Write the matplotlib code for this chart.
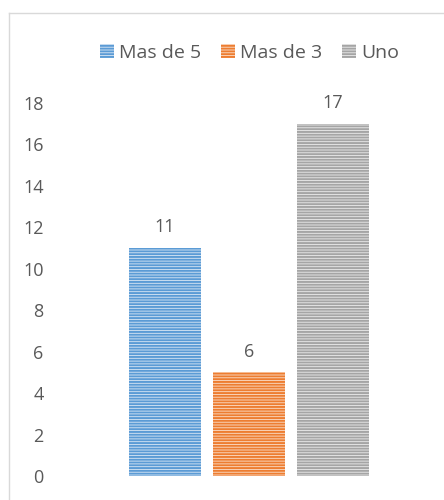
import matplotlib.pyplot as plt
from matplotlib.patches import Rectangle
from matplotlib.lines import Line2D

plt.rcParams['font.family'] = ['Open Sans', 'DejaVu Sans']
plt.rcParams['hatch.linewidth'] = 1.4

series = ['Mas de 5', 'Mas de 3', 'Uno']
values = [11, 5, 17]
labels = ['11', '6', '17']
colors = ['#5b9bd5', '#ed7d31', '#a5a5a5']
tints = ['#dce8f5', '#fbe0cd', '#ececec']
yticks = [0, 2, 4, 6, 8, 10, 12, 14, 16, 18]
txt = '#595959'
fs = 13

fig = plt.figure(figsize=(4.44, 5), dpi=100)
ax = fig.add_axes([0.12, 0.048, 0.86, 0.746])

x = [0, 1, 2]
for i in range(3):
    ax.bar(x[i], values[i], width=0.857, color=tints[i], edgecolor=colors[i],
           hatch='------', linewidth=0, label=series[i])
    ax.annotate(labels[i], (x[i], values[i]), xytext=(0, 15), textcoords='offset points',
                ha='center', va='center', fontsize=fs, color=txt)

ax.set_ylim(0, 18)
ax.set_xlim(-1.327, 3.22)
ax.set_yticks(yticks)
ax.set_xticks([])
ax.tick_params(axis='y', length=0, labelsize=fs, labelcolor=txt, pad=7)
for s in ax.spines.values():
    s.set_visible(False)

# legend
handles = [Rectangle((0, 0), 1, 1, facecolor=tints[i], edgecolor=colors[i],
                     hatch='------', linewidth=0) for i in range(3)]
fig.legend(handles, series, loc='center', bbox_to_anchor=(0.562, 0.894), ncol=3,
           frameon=False, fontsize=14, labelcolor=txt, handlelength=0.7,
           handleheight=0.7, handletextpad=0.25, columnspacing=1.05)

# chart frame
fig.add_artist(Line2D([0.021, 0.021], [0, 0.974], color='#d9d9d9', lw=1))
fig.add_artist(Line2D([0.021, 1], [0.974, 0.974], color='#d9d9d9', lw=1))

fig.savefig('out.png', dpi=100)
